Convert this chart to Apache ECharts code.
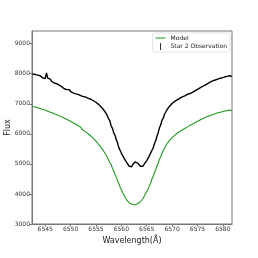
<!DOCTYPE html>
<html>
<head>
<meta charset="utf-8">
<script src="https://cdn.jsdelivr.net/npm/echarts@6/dist/echarts.min.js"></script>
<style>html,body{margin:0;padding:0;background:#fff}#c{width:258px;height:258px}</style>
</head>
<body>
<div id="c"></div>
<script>
var wavelength = [
6542.50,6542.75,6543.00,6543.25,6543.50,6543.75,6544.00,6544.25,
6544.50,6544.75,6545.00,6545.25,6545.50,6545.75,6546.00,6546.25,
6546.50,6546.75,6547.00,6547.25,6547.50,6547.75,6548.00,6548.25,
6548.50,6548.75,6549.00,6549.25,6549.50,6549.75,6550.00,6550.25,
6550.50,6550.75,6551.00,6551.25,6551.50,6551.75,6552.00,6552.25,
6552.50,6552.75,6553.00,6553.25,6553.50,6553.75,6554.00,6554.25,
6554.50,6554.75,6555.00,6555.25,6555.50,6555.75,6556.00,6556.25,
6556.50,6556.75,6557.00,6557.25,6557.50,6557.75,6558.00,6558.25,
6558.50,6558.75,6559.00,6559.25,6559.50,6559.75,6560.00,6560.25,
6560.50,6560.75,6561.00,6561.25,6561.50,6561.75,6562.00,6562.25,
6562.50,6562.75,6563.00,6563.25,6563.50,6563.75,6564.00,6564.25,
6564.50,6564.75,6565.00,6565.25,6565.50,6565.75,6566.00,6566.25,
6566.50,6566.75,6567.00,6567.25,6567.50,6567.75,6568.00,6568.25,
6568.50,6568.75,6569.00,6569.25,6569.50,6569.75,6570.00,6570.25,
6570.50,6570.75,6571.00,6571.25,6571.50,6571.75,6572.00,6572.25,
6572.50,6572.75,6573.00,6573.25,6573.50,6573.75,6574.00,6574.25,
6574.50,6574.75,6575.00,6575.25,6575.50,6575.75,6576.00,6576.25,
6576.50,6576.75,6577.00,6577.25,6577.50,6577.75,6578.00,6578.25,
6578.50,6578.75,6579.00,6579.25,6579.50,6579.75,6580.00,6580.25,
6580.50,6580.75,6581.00,6581.25,6581.50,6581.75];
var observation = [
7990,7935,7975,7920,7950,7890,7930,7905,
7860,7900,7840,8030,7850,7790,7820,7750,
7780,7690,7730,7670,7700,7620,7640,7570,
7590,7500,7540,7470,7440,7470,7400,7430,
7360,7400,7330,7380,7310,7340,7270,7310,
7240,7280,7220,7250,7180,7220,7150,7170,
7100,7130,7050,7060,6980,6990,6900,6910,
6800,6790,6680,6640,6500,6420,6260,6180,
6030,5960,5800,5700,5540,5490,5360,5320,
5200,5170,5060,5030,4930,4960,4900,4980,
5000,5070,5110,5020,4990,4920,4900,4920,
4990,5030,5110,5150,5260,5320,5440,5520,
5660,5760,5910,6030,6200,6290,6450,6520,
6650,6700,6800,6830,6920,6930,7010,7000,
7080,7070,7130,7110,7180,7160,7230,7200,
7260,7240,7310,7280,7340,7300,7380,7350,
7430,7400,7480,7450,7530,7500,7580,7550,
7620,7590,7670,7640,7720,7690,7760,7720,
7790,7760,7820,7790,7850,7810,7870,7850,
7900,7860,7920,7880,7930,7900];
var model = [
6910,6870,6890,6840,6870,6810,6840,6790,
6810,6750,6790,6730,6750,6690,6720,6670,
6690,6630,6650,6590,6620,6570,6580,6520,
6540,6480,6500,6440,6460,6400,6420,6360,
6370,6310,6320,6260,6270,6210,6220,6150,
6160,6090,6100,6030,6030,5960,5950,5880,
5870,5800,5780,5710,5680,5600,5570,5490,
5450,5360,5310,5210,5150,5040,4970,4850,
4770,4650,4560,4440,4350,4230,4150,4040,
3970,3880,3830,3760,3730,3680,3680,3650,
3660,3640,3670,3680,3720,3740,3800,3840,
3920,3980,4080,4150,4270,4350,4480,4570,
4700,4790,4930,5020,5150,5230,5350,5410,
5520,5570,5670,5690,5780,5790,5870,5870,
5950,5950,6020,6010,6080,6070,6130,6120,
6180,6170,6230,6220,6280,6260,6320,6310,
6370,6360,6420,6400,6460,6450,6500,6480,
6540,6530,6580,6560,6610,6590,6640,6620,
6670,6650,6700,6670,6720,6700,6740,6720,
6760,6740,6780,6750,6790,6760];
var xTicks = [6545,6550,6555,6560,6565,6570,6575,6580];
var yTicks = [3000,4000,5000,6000,7000,8000,9000];

function pairs(xs, ys){ return xs.map(function(x,i){ return [x, ys[i]]; }); }

var chart = echarts.init(document.getElementById('c'), null, {renderer:'canvas'});
var axisColor = '#777';
chart.setOption({
  animation: false,
  backgroundColor: '#fff',
  textStyle: {fontFamily: 'DejaVu Sans'},
  grid: {left: 32, right: 26, top: 31, bottom: 34, outerBoundsMode: 'none', containLabel: false,
         show: true, borderColor: axisColor, borderWidth: 1, backgroundColor: 'transparent'},
  legend: {
    right: 28, top: 33, orient: 'vertical',
    backgroundColor: '#fff', borderColor: '#ddd', borderWidth: 0.8, borderRadius: 2,
    padding: [2, 3, 2, 3], itemGap: 2, itemWidth: 10, itemHeight: 7,
    textStyle: {fontSize: 6, color: '#222', fontFamily: 'DejaVu Sans'},
    data: [
      {name: 'Model', icon: 'path://M0,0 L20,0 L20,2 L0,2 Z', itemStyle: {color: '#1e9a1e'}},
      {name: 'Star 2 Observation', icon: 'path://M0,0 L2,0 L2,14 L0,14 Z', itemStyle: {color: '#333'}}
    ]
  },
  xAxis: {
    type: 'value', min: 6542.4, max: 6581.8,
    name: 'Wavelength(Å)', nameLocation: 'middle', nameGap: 13, nameMoveOverlap: false,
    nameTextStyle: {fontSize: 8, color: '#222', fontFamily: 'DejaVu Sans'},
    axisLine: {show: true, lineStyle: {color: axisColor, width: 1}},
    axisTick: {show: true, inside: false, length: 2.5, customValues: xTicks, lineStyle: {color: axisColor}},
    axisLabel: {fontSize: 6, color: '#333', margin: 2, customValues: xTicks, formatter: function(v){ return String(v); }},
    splitLine: {show: false}
  },
  yAxis: {
    type: 'value', min: 3000, max: 9420,
    name: 'Flux', nameLocation: 'middle', nameGap: 20, nameRotate: 90, nameMoveOverlap: false,
    nameTextStyle: {fontSize: 8, color: '#222', fontFamily: 'DejaVu Sans'},
    axisLine: {show: true, lineStyle: {color: axisColor, width: 1}},
    axisTick: {show: true, inside: false, length: 2.5, customValues: yTicks, lineStyle: {color: axisColor}},
    axisLabel: {fontSize: 6, color: '#333', margin: 2, customValues: yTicks, formatter: function(v){ return String(v); }},
    splitLine: {show: false}
  },
  series: [
    {name: 'Model', type: 'line', data: pairs(wavelength, model), symbol: 'none',
     lineStyle: {color: '#1e9a1e', width: 1.1}, itemStyle: {color: '#1e9a1e'}},
    {name: 'Star 2 Observation', type: 'line', data: pairs(wavelength, observation), symbol: 'none',
     lineStyle: {color: '#000', width: 1.4}, itemStyle: {color: '#000'}}
  ]
});
</script>
</body>
</html>
